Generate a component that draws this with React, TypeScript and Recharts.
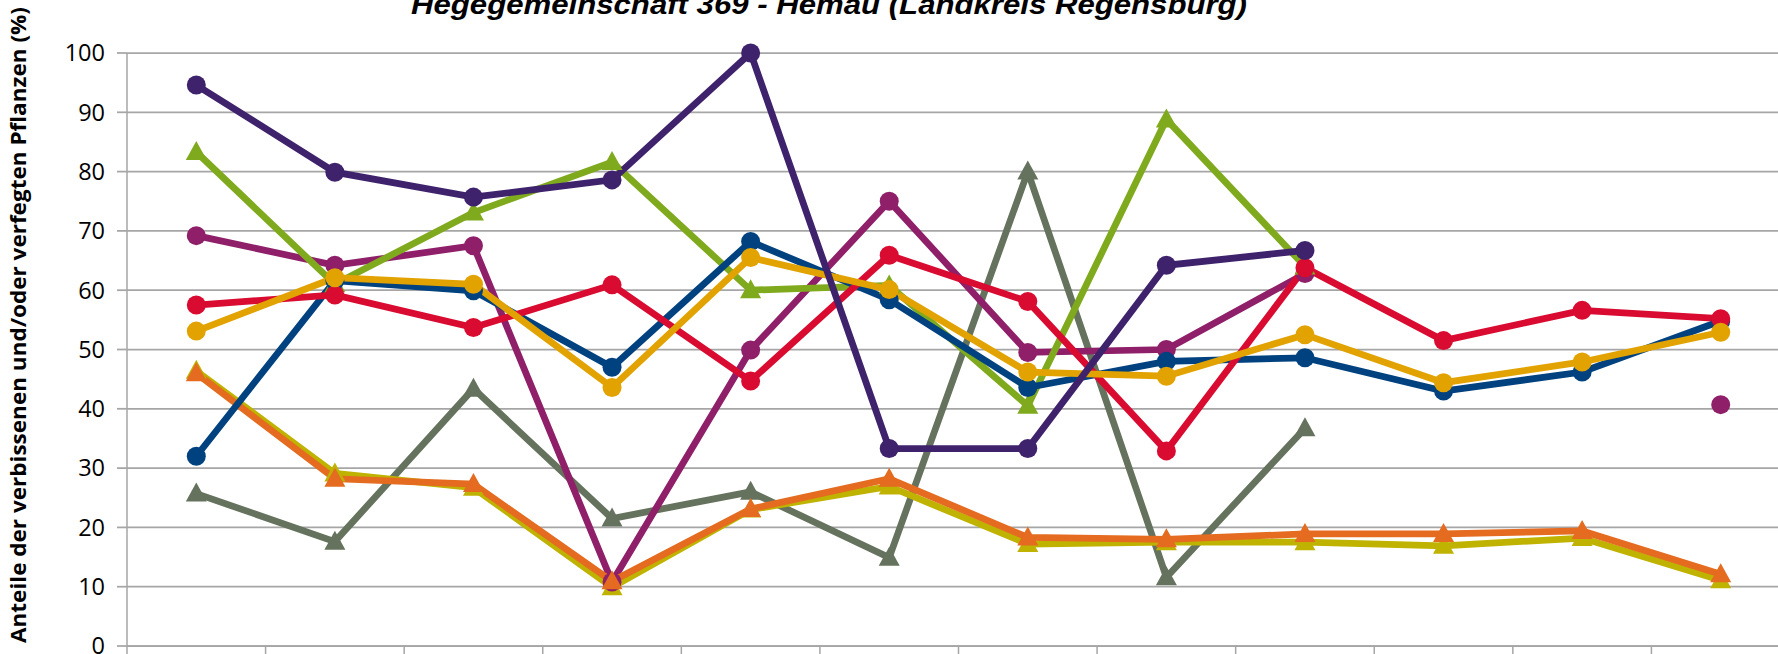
import React from "react";
import { LineChart, Line, XAxis, YAxis, CartesianGrid } from "recharts";

// Survey years (axis labels lie below the visible area of the picture)
const years = ["1991", "1994", "1997", "2000", "2003", "2006", "2009", "2012", "2015", "2018", "2021", "2024"];
const yTicks = [0, 10, 20, 30, 40, 50, 60, 70, 80, 90, 100];
const xTicks = [0, 1, 2, 3, 4, 5, 6, 7, 8, 9, 10, 11, 12];

const title = "Hegegemeinschaft 369 - Hemau (Landkreis Regensburg)";
const yLabel = "Anteile der verbissenen und/oder verfegten Pflanzen (%)";

// circle-marker series
const darkPurple = [94.6, 79.9, 75.7, 78.6, 100, 33.3, 33.3, 64.2, 66.7, null, null, null];
const magenta = [69.2, 64.2, 67.5, 10.8, 49.9, 75.0, 49.5, 50.0, 62.8, null, null, 40.7];
const red = [57.5, 59.2, 53.7, 60.9, 44.7, 65.9, 58.1, 32.9, 63.8, 51.5, 56.6, 55.2];
const gold = [53.1, 62.1, 61.0, 43.6, 65.5, 60.1, 46.2, 45.5, 52.5, 44.4, 47.9, 52.9];
const blue = [32.0, 61.6, 59.9, 47.0, 68.2, 58.4, 43.6, 48.0, 48.6, 43.0, 46.2, 54.8];

// triangle-marker series
const green = [83.3, 61.0, 73.1, 81.6, 60.0, 60.8, 40.5, 88.8, 64.0, null, null, null];
const orange = [46.0, 28.2, 27.3, 10.9, 23.1, 28.2, 18.3, 18.0, 18.9, 18.9, 19.4, 12.1];
const olive = [46.4, 29.1, 26.7, 9.9, 23.0, 26.9, 17.2, 17.5, 17.5, 16.9, 18.2, 11.1];
const greyGreen = [25.7, 17.6, 43.4, 21.5, 26.0, 14.9, 80.0, 11.6, 36.7, null, null, null];

const data = years.map((year, i) => ({
  x: i + 0.5,
  year,
  darkPurple: darkPurple[i],
  magenta: magenta[i],
  red: red[i],
  gold: gold[i],
  blue: blue[i],
  green: green[i],
  orange: orange[i],
  olive: olive[i],
  greyGreen: greyGreen[i],
}));

const circleDot = (color: string) => (props: any) => {
  const { cx, cy, index } = props;
  if (cx == null || cy == null || props.value == null || isNaN(cy)) return <g key={`c-${index}`} />;
  return <circle key={`c-${index}`} cx={cx} cy={cy} r={9.5} fill={color} stroke="none" />;
};

const triangleDot = (color: string) => (props: any) => {
  const { cx, cy, index } = props;
  if (cx == null || cy == null || props.value == null || isNaN(cy)) return <g key={`t-${index}`} />;
  const pts = `${cx},${cy - 11} ${cx + 10.5},${cy + 8} ${cx - 10.5},${cy + 8}`;
  return <polygon key={`t-${index}`} points={pts} fill={color} stroke="none" />;
};

type S = { key: string; color: string; shape: "c" | "t" };
const seriesOrder: S[] = [
  { key: "greyGreen", color: "#65725D", shape: "t" },
  { key: "olive", color: "#BFB300", shape: "t" },
  { key: "magenta", color: "#8E1F68", shape: "c" },
  { key: "orange", color: "#E46B1F", shape: "t" },
  { key: "green", color: "#80AA1E", shape: "t" },
  { key: "blue", color: "#00427F", shape: "c" },
  { key: "red", color: "#D90B31", shape: "c" },
  { key: "gold", color: "#E2A300", shape: "c" },
  { key: "darkPurple", color: "#3F226C", shape: "c" },
];

export default function App() {
  return (
    <div
      style={{
        position: "fixed",
        left: 0,
        top: 0,
        width: 1778,
        height: 654,
        overflow: "hidden",
        background: "#ffffff",
      }}
    >
      <LineChart
        width={1800}
        height={700}
        data={data}
        margin={{ top: 53, right: 10, bottom: 24, left: 0 }}
      >
        <CartesianGrid vertical={false} stroke="#A6A6A6" strokeWidth={1.75} />
        <XAxis
          dataKey="x"
          type="number"
          domain={[0, 12]}
          ticks={xTicks}
          height={30}
          tickSize={10}
          tickFormatter={() => ""}
          axisLine={{ stroke: "#A6A6A6", strokeWidth: 1.75 }}
          tickLine={{ stroke: "#A6A6A6", strokeWidth: 1.5 }}
          interval={0}
        />
        <YAxis
          type="number"
          domain={[0, 100]}
          ticks={yTicks}
          width={127}
          tickSize={10}
          tickMargin={12}
          interval={0}
          axisLine={{ stroke: "#A6A6A6", strokeWidth: 1.5 }}
          tickLine={{ stroke: "#A6A6A6", strokeWidth: 1.75 }}
          tick={{ fill: "#000000", fontSize: 23.5, fontFamily: "'Open Sans', sans-serif" }}
        />
        {seriesOrder.map((s) => (
          <Line
            key={s.key}
            dataKey={s.key}
            type="linear"
            stroke={s.color}
            strokeWidth={6.75}
            dot={s.shape === "c" ? circleDot(s.color) : triangleDot(s.color)}
            activeDot={false}
            connectNulls={false}
            isAnimationActive={false}
          />
        ))}
      </LineChart>
      <svg
        width={1778}
        height={654}
        style={{ position: "absolute", left: 0, top: 0, pointerEvents: "none" }}
      >
        <text
          x={411}
          y={14}
          fontFamily="'Liberation Sans', sans-serif"
          fontSize={28}
          fontWeight="bold"
          fontStyle="italic"
          fill="#000000"
          textLength={836}
          lengthAdjust="spacingAndGlyphs"
        >
          {title}
        </text>
        <text
          transform="translate(26, 325) rotate(-90)"
          x={0}
          y={0}
          textAnchor="middle"
          fontFamily="'Open Sans', sans-serif"
          fontSize={20.5}
          fontWeight="bold"
          fill="#000000"
          textLength={636}
          lengthAdjust="spacingAndGlyphs"
        >
          {yLabel}
        </text>
      </svg>
    </div>
  );
}
